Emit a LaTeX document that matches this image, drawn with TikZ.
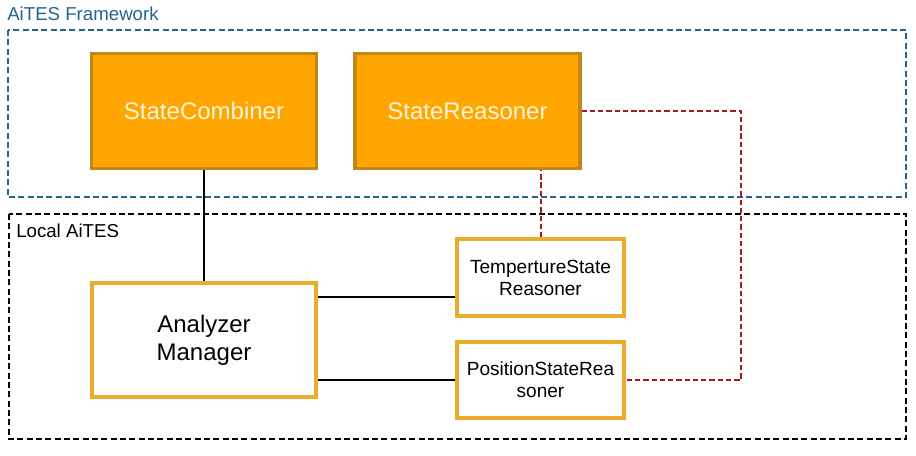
\documentclass[tikz,border=0pt]{standalone}
\usepackage{fontspec}
\setmainfont{Liberation Sans}
\usepackage{xcolor}
\usepackage{tikz}
\usetikzlibrary{calc,positioning}

\definecolor{fwblue}{RGB}{36,100,142}
\definecolor{boxorange}{RGB}{255,166,0}
\definecolor{boxedge}{RGB}{196,134,24}
\definecolor{localedge}{RGB}{235,172,44}
\definecolor{linkred}{RGB}{160,28,36}
\definecolor{creamtext}{RGB}{255,245,220}

\tikzset{
  fwbox/.style={draw=boxedge, fill=boxorange, line width=2.4pt, text=creamtext,
    minimum width=168.75pt, minimum height=86.25pt, inner sep=0pt, font=\fontsize{18}{21}\selectfont},
  localbox/.style={draw=localedge, fill=white, line width=2.4pt, text=black, align=center,
    inner sep=0pt, font=\fontsize{14.3}{16.5}\selectfont},
  grouplabel/.style={anchor=west, inner sep=0pt, font=\fontsize{14}{16}\selectfont},
  reddash/.style={draw=linkred, line width=1.5pt, dash pattern=on 4pt off 2.2pt},
}

\begin{document}
\begin{tikzpicture}[x=0.75pt,y=0.75pt,yscale=-1,xscale=1]
\useasboundingbox (0,0) rectangle (916,456);

%Shape: Rectangle [framework group]
\draw [fwblue, line width=1.5pt, dash pattern=on 4.5pt off 2.5pt] (8,30) rectangle (906,197) ;
\node [grouplabel, text=fwblue] (fwlabel) at (7,14) {AiTES Framework};
%Shape: Rectangle [local group]
\draw [black, line width=1.5pt, dash pattern=on 4.5pt off 2.5pt] (9,214) rectangle (906,439) ;
\node [grouplabel] (locallabel) at (16,231) {Local AiTES};

%Framework components
\node [fwbox] (SC) at (204,111) {StateCombiner};
\node [fwbox] (SR) at (467.5,111) {StateReasoner};

%Local components
\node [localbox, minimum width=168pt, minimum height=85.5pt, align=center,
  font=\fontsize{18}{21}\selectfont] (AM) at (204,340) {Analyzer\\Manager};
\node [localbox, minimum width=125.25pt, minimum height=57.75pt] (TSR) at (540.5,277.5) {TempertureState\\Reasoner};
\node [localbox, minimum width=125.25pt, minimum height=57pt] (PSR) at (540.5,380) {PositionStateRea\\soner};

%Straight Lines
\draw [line width=1.5pt] (SC.south) -- (AM.north) ;
\coordinate (tin) at ([yshift=14.6pt]TSR.west);
\draw [line width=1.5pt] (tin) -- (tin -| AM.east) ;
\draw [line width=1.5pt] (PSR.west) -- (PSR.west -| AM.east) ;

%Dashed links
\coordinate (turn) at (741,0);
\draw [reddash] (TSR.north) -- (TSR.north |- SR.south) ;
\draw [reddash] (SR.east) -- (SR.east -| turn) -- (PSR.east -| turn) -- (PSR.east) ;

\end{tikzpicture}
\end{document}
